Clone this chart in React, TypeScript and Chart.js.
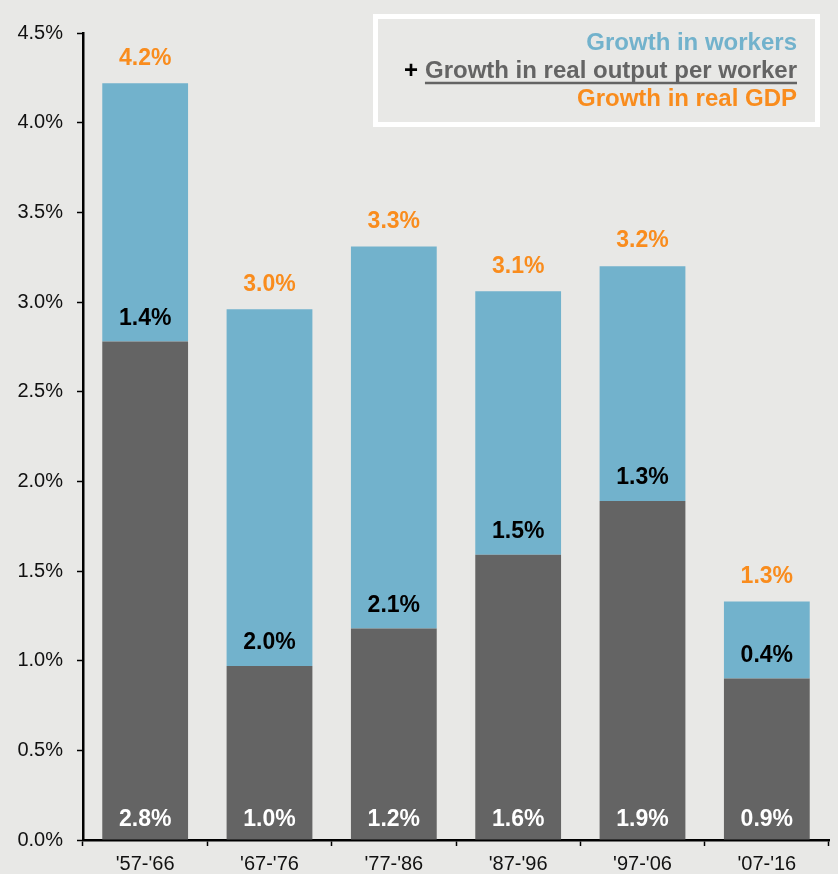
import { useEffect, useRef } from "react";
import { Chart, registerables } from "chart.js";

Chart.register(...registerables);

const periods = ["'57-'66", "'67-'76", "'77-'86", "'87-'96", "'97-'06", "'07-'16"];
const outputPerWorker = [2.78, 0.97, 1.18, 1.59, 1.89, 0.9];
const workers = [1.44, 1.99, 2.13, 1.47, 1.31, 0.43];
const legendLines = ["Growth in workers", "Growth in real output per worker", "Growth in real GDP"];

const BG = "#e8e8e6";
const BLUE = "#72b2cc";
const GREY = "#646464";
const ORANGE = "#f98c1d";
const FONT = "'Liberation Sans', Arial, sans-serif";

const fmt = (v: number) => v.toFixed(1) + "%";

const labelPlugin = {
  id: "valueLabels",
  afterDatasetsDraw(chart: any) {
    const ctx = chart.ctx;
    const m0 = chart.getDatasetMeta(0);
    const m1 = chart.getDatasetMeta(1);
    const zero = chart.scales.y.getPixelForValue(0);
    ctx.save();
    ctx.font = `bold 23px ${FONT}`;
    ctx.textAlign = "center";
    ctx.textBaseline = "middle";
    for (let i = 0; i < periods.length; i++) {
      const b0 = m0.data[i];
      const b1 = m1.data[i];
      ctx.fillStyle = "#ffffff";
      ctx.fillText(fmt(outputPerWorker[i]), b0.x, zero - 20);
      ctx.fillStyle = "#000000";
      ctx.fillText(fmt(workers[i]), b1.x, b0.y - 23);
      ctx.fillStyle = ORANGE;
      ctx.fillText(fmt(outputPerWorker[i] + workers[i]), b1.x, b1.y - 25);
    }
    ctx.restore();
  },
};

const legendPlugin = {
  id: "customLegend",
  afterDraw(chart: any) {
    const ctx = chart.ctx;
    ctx.save();
    ctx.strokeStyle = "#ffffff";
    ctx.lineWidth = 5;
    ctx.strokeRect(375.5, 16.5, 442, 108);
    const right = 797;
    ctx.font = `bold 24px ${FONT}`;
    ctx.textAlign = "right";
    ctx.textBaseline = "middle";
    ctx.fillStyle = BLUE;
    ctx.fillText(legendLines[0], right, 43);
    ctx.fillStyle = GREY;
    ctx.fillText(legendLines[1], right, 71);
    const w = ctx.measureText(legendLines[1]).width;
    ctx.strokeStyle = GREY;
    ctx.lineWidth = 2.5;
    ctx.beginPath();
    ctx.moveTo(right - w, 83);
    ctx.lineTo(right, 83);
    ctx.stroke();
    ctx.fillStyle = "#000000";
    ctx.fillText("+", right - w - 7, 71);
    ctx.fillStyle = ORANGE;
    ctx.fillText(legendLines[2], right, 99);
    ctx.restore();
  },
};

export default function App() {
  const ref = useRef<HTMLCanvasElement>(null);
  useEffect(() => {
    if (!ref.current) return;
    const chart = new Chart(ref.current, {
      type: "bar",
      data: {
        labels: periods,
        datasets: [
          {
            label: legendLines[1],
            data: outputPerWorker,
            backgroundColor: GREY,
            barPercentage: 0.69,
            categoryPercentage: 1,
          },
          {
            label: legendLines[0],
            data: workers,
            backgroundColor: BLUE,
            barPercentage: 0.69,
            categoryPercentage: 1,
          },
        ],
      },
      options: {
        responsive: false,
        animation: false,
        layout: { padding: { top: 33, right: 9, left: 0, bottom: 0 } },
        plugins: { legend: { display: false }, tooltip: { enabled: false } },
        scales: {
          x: {
            stacked: true,
            afterFit: (s: any) => {
              s.height = 34;
            },
            border: { display: true, color: "#000000", width: 2.5 },
            grid: {
              display: true,
              drawOnChartArea: false,
              drawTicks: true,
              tickLength: 6,
              tickWidth: 1.5,
              tickColor: "#000000",
              offset: true,
            },
            ticks: { color: "#111111", font: { family: FONT, size: 20 }, padding: 6 },
          },
          y: {
            stacked: true,
            min: 0,
            max: 4.5,
            afterFit: (s: any) => {
              s.width = 83;
            },
            border: { display: true, color: "#000000", width: 2.5 },
            grid: {
              display: true,
              drawOnChartArea: false,
              drawTicks: true,
              tickLength: 6,
              tickWidth: 1.5,
              tickColor: "#000000",
            },
            ticks: {
              stepSize: 0.5,
              color: "#111111",
              font: { family: FONT, size: 20 },
              padding: 14,
              callback: (v: any) => Number(v).toFixed(1) + "%",
            },
          },
        },
      },
      plugins: [labelPlugin, legendPlugin],
    });
    return () => chart.destroy();
  }, []);
  return (
    <div
      style={{
        position: "absolute",
        left: 0,
        top: 0,
        width: 838,
        height: 874,
        background: BG,
      }}
    >
      <canvas ref={ref} width={838} height={874} style={{ display: "block" }} />
    </div>
  );
}
